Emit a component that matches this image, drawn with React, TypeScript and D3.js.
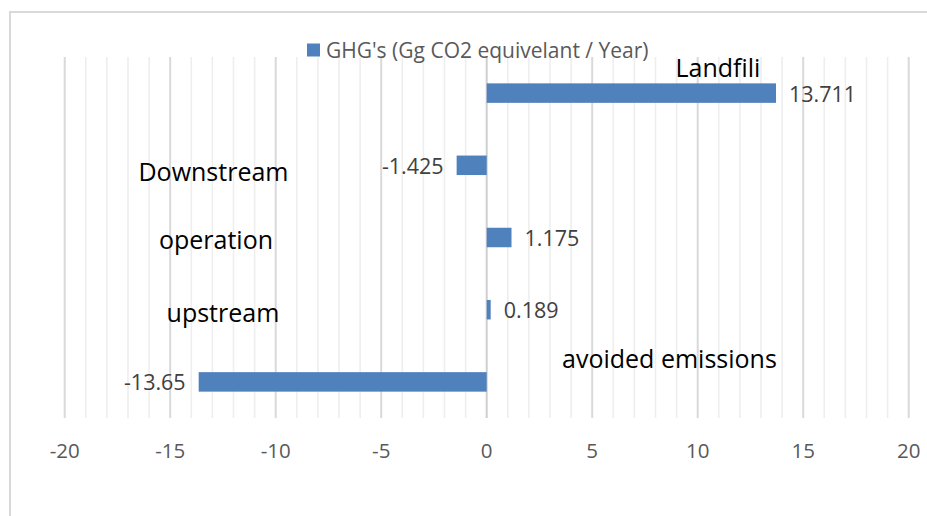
import React from "react";
import * as d3 from "d3";

const categories = ["Landfili", "Downstream", "operation", "upstream", "avoided emissions"];
const values = [13.711, -1.425, 1.175, 0.189, -13.65];
const valueLabels = ["13.711", "-1.425", "1.175", "0.189", "-13.65"];
const majorTicks = [-20, -15, -10, -5, 0, 5, 10, 15, 20];
const tickLabels = ["-20", "-15", "-10", "-5", "0", "5", "10", "15", "20"];
const seriesName = "GHG's (Gg CO2 equivelant / Year)";

// label placement for category names (in value units / px offset from band centre)
const catLabelPos = [
  { v: 10.96, dy: -16 },
  { v: -12.95, dy: 15.4 },
  { v: -12.83, dy: 11.8 },
  { v: -12.5, dy: 12 },
  { v: 8.66, dy: -14 },
];

const W = 927;
const H = 516;

export default function App() {
  const x = d3.scaleLinear().domain([-20, 20]).range([64.7, 908.7]);
  const y = d3
    .scaleBand<string>()
    .domain(categories)
    .range([57, 418])
    .paddingInner(0.73)
    .paddingOuter(0.365);
  const minor = d3.range(-20, 21, 1).filter((v) => v % 5 !== 0);
  const font = "'Open Sans', sans-serif";

  return (
    <svg
      width={W}
      height={H}
      style={{ position: "absolute", left: 0, top: 0, background: "#fff" }}
    >
      <rect x={0} y={0} width={W} height={H} fill="#fff" />
      {/* chart frame */}
      <rect x={10} y={12} width={W + 20} height={H + 20} fill="none" stroke="#d9d9d9" strokeWidth={2} />

      {/* minor gridlines */}
      {minor.map((v) => (
        <line key={"m" + v} x1={x(v)} x2={x(v)} y1={57} y2={418} stroke="#eeeeee" strokeWidth={1.6} />
      ))}
      {/* major gridlines */}
      {majorTicks.map((v) => (
        <line key={"M" + v} x1={x(v)} x2={x(v)} y1={57} y2={418} stroke={v === 0 ? "#cfcfcf" : "#d9d9d9"} strokeWidth={2} />
      ))}

      {/* bars */}
      {categories.map((c, i) => {
        const v = values[i];
        const x0 = x(Math.min(0, v));
        const x1 = x(Math.max(0, v));
        return (
          <rect key={"b" + c} x={x0} y={y(c)!} width={x1 - x0} height={y.bandwidth()} fill="#4f81bd" />
        );
      })}

      {/* value labels */}
      {categories.map((c, i) => {
        const v = values[i];
        const cy = y(c)! + y.bandwidth() / 2;
        const pos = v >= 0;
        return (
          <text
            key={"v" + c}
            x={x(v) + (pos ? 13 : -13)}
            y={cy}
            dominantBaseline="central"
            textAnchor={pos ? "start" : "end"}
            fontFamily={font}
            fontSize={21.5}
            fill="#404040"
          >
            {valueLabels[i]}
          </text>
        );
      })}

      {/* category labels */}
      {categories.map((c, i) => {
        const cy = y(c)! + y.bandwidth() / 2;
        return (
          <text
            key={"c" + c}
            x={x(catLabelPos[i].v)}
            y={cy + catLabelPos[i].dy}
            textAnchor="middle"
            fontFamily={font}
            fontSize={25}
            fill="#000"
          >
            {c}
          </text>
        );
      })}

      {/* x tick labels */}
      {majorTicks.map((v, i) => (
        <text
          key={"t" + v}
          x={x(v)}
          y={450}
          textAnchor="middle"
          dominantBaseline="central"
          fontFamily={font}
          fontSize={20.5}
          fill="#595959"
        >
          {tickLabels[i]}
        </text>
      ))}

      {/* legend */}
      <rect x={307} y={43.5} width={13} height={13} fill="#4f81bd" />
      <text x={326} y={50} dominantBaseline="central" fontFamily={font} fontSize={21} fill="#595959">
        {seriesName}
      </text>
    </svg>
  );
}
